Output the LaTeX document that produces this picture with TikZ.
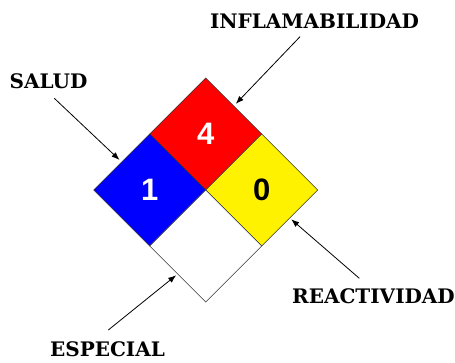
\documentclass[tikz,border=0pt]{standalone}
\usepackage{fontspec}
\setmainfont{DejaVu Serif}
\newfontfamily\digitfont{Liberation Sans}
\usetikzlibrary{positioning,shapes.geometric,arrows.meta}

\begin{document}
\begin{tikzpicture}[x=1pt, y=-1pt, >={Latex[length=8pt,width=6pt]}, line width=0.8pt,
  cell/.style = {draw=black!80, line width=0.6pt, diamond, aspect=1, inner sep=0pt, outer sep=0pt,
                 minimum width=112pt, minimum height=112pt, font=\digitfont\bfseries\fontsize{31}{31}\selectfont},
  label/.style = {inner sep=0pt, font=\bfseries\fontsize{20}{20}\selectfont}]
\useasboundingbox (0,0) rectangle (455,362);
\node[cell, fill=red, text=white] (red) at (205.7,134) {4};
\node[cell, fill=blue, text=white] (blue) [below left=0pt of red] {1};
\node[cell, fill=yellow] (yellow) [below right=0pt of red] {0};
\node[cell, fill=white] (white) [below right=0pt of blue] {};
\node[label] (salud) at (48.5,81.5) {SALUD};
\node[label] (inflam) at (314.5,21.7) {INFLAMABILIDAD};
\node[label] (react) at (373.5,296) {REACTIVIDAD};
\node[label] (especial) at (107.5,349) {ESPECIAL};
\coordinate (s) at (54.3,98.3);
\coordinate (i) at (300,36.7);
\coordinate (r) at (359.3,278.3);
\coordinate (e) at (108.3,330);
\draw[->, shorten >=3pt] (s) -- (blue.north west);
\draw[->, shorten >=3pt] (i) -- (red.north east);
\draw[->, shorten >=2pt] (r) -- (yellow.south east);
\draw[->, shorten >=2pt] (e) -- (white.south west);
\end{tikzpicture}
\end{document}
